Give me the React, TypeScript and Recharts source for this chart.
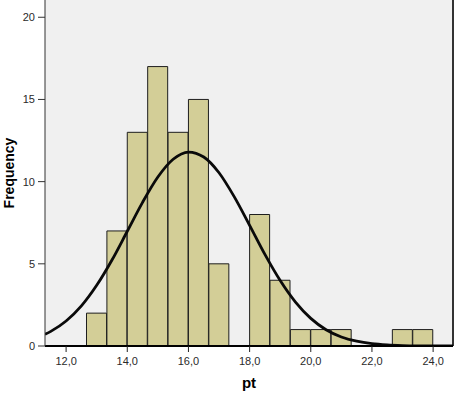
import {
  ComposedChart,
  Bar,
  Line,
  XAxis,
  YAxis,
  CartesianGrid,
  ReferenceLine,
} from 'recharts';

// histogram bins (bin width 2/3), centers and counts
const binCenters = [
  13.0, 13.667, 14.333, 15.0, 15.667, 16.333, 17.0, 17.667, 18.333, 19.0,
  19.667, 20.333, 21.0, 21.667, 22.333, 23.0, 23.667,
];
const binCounts = [2, 7, 13, 17, 13, 15, 5, 0, 8, 4, 1, 1, 1, 0, 0, 1, 1];

// fitted normal curve
const curveX = [
  11.31, 11.5, 12, 12.5, 13, 13.5, 14, 14.5, 15, 15.5, 16, 16.5, 17, 17.5, 18,
  18.5, 19, 19.5, 20, 20.5, 21, 21.5, 22, 22.5, 23, 23.5, 24, 24.65,
];
const curveY = [
  0.71, 0.89, 1.52, 2.44, 3.69, 5.23, 6.98, 8.74, 10.28, 11.36, 11.8, 11.5,
  10.54, 9.07, 7.34, 5.57, 3.98, 2.67, 1.68, 0.99, 0.55, 0.29, 0.14, 0.065,
  0.028, 0.01, 0.004, 0.001,
];

const xTicks = [12, 14, 16, 18, 20, 22, 24];
const yTicks = [0, 5, 10, 15, 20];
const xDomain = [11.31, 24.65];
const yDomain = [0, 21.05];

const bins = binCenters.map((x, i) => ({ x, count: binCounts[i] }));
const curve = curveX.map((x, i) => ({ x, y: curveY[i] }));

const FONT = '"Liberation Sans", Arial, sans-serif';

export default function App() {
  return (
    <div
      style={{
        position: 'absolute',
        left: 0,
        top: 0,
        width: 461,
        height: 393,
        background: '#fff',
      }}
    >
      <ComposedChart
        width={461}
        height={393}
        data={bins}
        margin={{ top: 0, right: 8, bottom: 0, left: 0 }}
        barCategoryGap={0}
        barGap={0}
        style={{ fontFamily: FONT }}
      >
        <CartesianGrid
          fill="#f0f0f0"
          horizontal={false}
          vertical={false}
        />
        <XAxis
          type="number"
          dataKey="x"
          domain={xDomain}
          allowDataOverflow
          ticks={xTicks}
          interval={0}
          height={47}
          tickSize={6}
          tickMargin={5}
          tickFormatter={(v: number) => v.toFixed(1).replace('.', ',')}
          tick={{ fill: '#2a2a2a', fontSize: 11 }}
          axisLine={{ stroke: '#000', strokeWidth: 2 }}
          tickLine={{ stroke: '#222' }}
          label={{
            value: 'pt',
            position: 'insideBottom',
            offset: 5,
            style: { fill: '#000', fontSize: 15, fontWeight: 'bold' },
          }}
        />
        {/* separate hidden axis for the curve so its points don't shrink the bars */}
        <XAxis
          xAxisId="curve"
          type="number"
          dataKey="x"
          domain={xDomain}
          allowDataOverflow
          hide
        />
        <YAxis
          type="number"
          domain={yDomain}
          allowDataOverflow
          ticks={yTicks}
          interval={0}
          width={45}
          tickSize={7}
          tickMargin={3}
          tick={{ fill: '#2a2a2a', fontSize: 11 }}
          axisLine={{ stroke: '#333' }}
          tickLine={{ stroke: '#333' }}
          label={{
            value: 'Frequency',
            position: 'center',
            angle: -90,
            dx: -13,
            style: { fill: '#000', fontSize: 14, fontWeight: 'bold' },
          }}
        />
        <ReferenceLine x={xDomain[1]} stroke="#333" strokeWidth={2} />
        <Bar
          dataKey="count"
          fill="#d3ce97"
          stroke="#1e1e1e"
          strokeWidth={1}
          isAnimationActive={false}
        />
        <Line
          xAxisId="curve"
          data={curve}
          dataKey="y"
          type="monotone"
          stroke="#0a0a0a"
          strokeWidth={2.8}
          dot={false}
          activeDot={false}
          isAnimationActive={false}
        />
      </ComposedChart>
    </div>
  );
}
